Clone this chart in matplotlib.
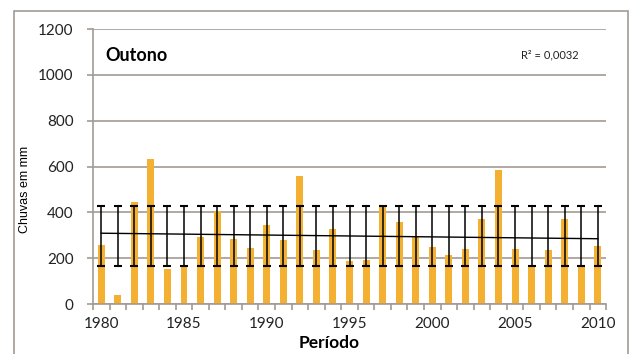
import numpy as np
import matplotlib.pyplot as plt
from matplotlib.patches import Rectangle

# chuvas de outono por ano (mm)
anos = np.arange(1980, 2011)
chuvas = [258, 38, 444, 632, 151, 165, 291, 406, 282, 246,
          346, 278, 558, 236, 329, 188, 192, 425, 359, 291,
          250, 213, 240, 372, 584, 242, 165, 234, 370, 165, 255]
media = 296
desvio = 132
r2_txt = "R² = 0,0032"

laranja = "#f4b030"
cinza = "#a39a93"

fig = plt.figure(figsize=(6.3, 3.54), dpi=100)
ax = fig.add_axes([0.1476, 0.1412, 0.8144, 0.7768])

# moldura externa
fig.patches.append(Rectangle((14 / 630, -0.05), 614 / 630, 1.05 - 11 / 354,
                             transform=fig.transFigure, fill=False,
                             edgecolor=cinza, lw=1.2))

ax.bar(anos, chuvas, width=0.42, color=laranja, zorder=2)

ax.errorbar(anos, [media] * len(anos), yerr=desvio, fmt="none",
            ecolor="black", elinewidth=1.1, capsize=2.8, capthick=1.5, zorder=3)

# linha de tendência
coef = np.polyfit(anos, chuvas, 1)
ax.plot(anos, np.polyval(coef, anos), color="black", lw=1.0, zorder=4)

ax.set_xlim(1979.5, 2010.5)
ax.set_ylim(0, 1200)
ax.set_yticks(np.arange(0, 1201, 200))
ax.yaxis.grid(True, color=cinza, lw=1.2, zorder=0)
ax.set_axisbelow(True)

for s in ["top", "right"]:
    ax.spines[s].set_visible(False)
for s in ["left", "bottom"]:
    ax.spines[s].set_color(cinza)
    ax.spines[s].set_linewidth(1.2)

# marcas entre categorias, rótulos a cada 5 anos
ax.set_xticks(np.arange(1979.5, 2011, 1))
ax.set_xticklabels([])
ax.set_xticks(np.arange(1980, 2011, 5), minor=True)
ax.set_xticklabels([str(a) for a in range(1980, 2011, 5)], minor=True)
ax.tick_params(axis="x", which="major", length=4, color=cinza, width=1.2)
ax.tick_params(axis="x", which="minor", length=0, pad=9,
               labelsize=11, labelcolor="#222222")
ax.tick_params(axis="y", length=4, color=cinza, width=1.2, pad=10,
               labelsize=11, labelcolor="#222222")
for lab in ax.get_xticklabels(minor=True) + ax.get_yticklabels():
    lab.set_family("Lato")

ax.set_ylabel("Chuvas em mm", family="Liberation Sans", fontsize=9, va="center")
ax.yaxis.set_label_coords(-0.133, 0.415)
ax.set_xlabel("Período", family="Lato", fontweight="bold", fontsize=12.5,
              va="center")
ax.xaxis.set_label_coords(0.46, -0.142)

ax.text(0.024, 0.905, "Outono", transform=ax.transAxes, family="Lato",
        fontweight="bold", fontsize=13, va="center")
ax.text(0.835, 0.905, r2_txt, transform=ax.transAxes, family="Lato",
        fontsize=8, va="center", color="#222222")

fig.savefig("out.png", dpi=100)
